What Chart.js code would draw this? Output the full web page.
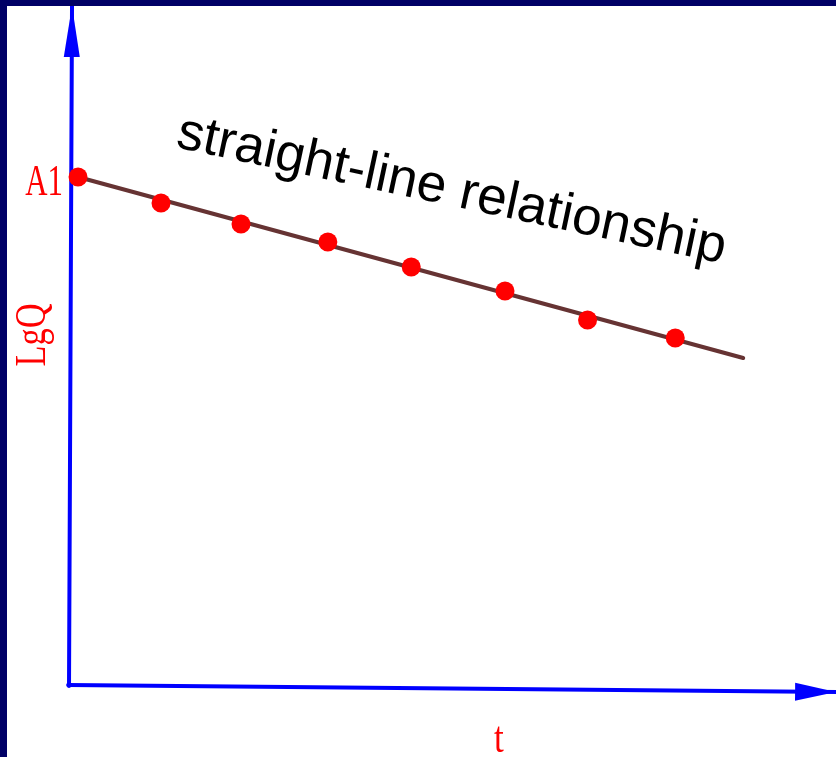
<!DOCTYPE html>
<html>
<head>
<meta charset="utf-8">
<script src="https://cdn.jsdelivr.net/npm/chart.js@4"></script>
<style>
  html, body { margin: 0; padding: 0; background: #000066; width: 836px; height: 757px; overflow: hidden; }
  #wrap { position: absolute; left: 7px; top: 6px; width: 829px; height: 751px; background: #ffffff; }
</style>
</head>
<body>
<div id="wrap"><canvas id="lgqChart" width="829" height="751"></canvas></div>
<script>
// measured points, t vs LgQ
const tValues = [0.105, 1.07, 2.0, 3.01, 3.98, 5.07, 6.03, 7.05];
const lgqValues = [5.09, 4.83, 4.62, 4.44, 4.19, 3.95, 3.66, 3.48];
// fitted straight line
const fitT = [0.105, 7.84];
const fitLgq = [5.09, 3.28];
// axes (slightly skewed in the original)
const yAxisT = [0, 0.035];
const yAxisLgq = [0, 6.8];
const xAxisT = [-0.01, 8.92];
const xAxisLgq = [0.01, -0.06];

const toPts = (xs, ys) => xs.map((x, i) => ({ x: x, y: ys[i] }));

const arrowAndLabels = {
    id: 'arrowAndLabels',
    afterDatasetsDraw(chart) {
        const ctx = chart.ctx;
        const xs = chart.scales.x, ys = chart.scales.y;
        const px = v => xs.getPixelForValue(v);
        const py = v => ys.getPixelForValue(v);

        function arrow(x0, y0, x1, y1, len, half) {
            const a = Math.atan2(y1 - y0, x1 - x0);
            ctx.save();
            ctx.translate(x1, y1);
            ctx.rotate(a);
            ctx.fillStyle = '#0000ff';
            ctx.beginPath();
            ctx.moveTo(0, 0);
            ctx.lineTo(-len, -half);
            ctx.lineTo(-len, half);
            ctx.closePath();
            ctx.fill();
            ctx.restore();
        }
        arrow(px(yAxisT[0]), py(yAxisLgq[0]), px(yAxisT[1]), py(yAxisLgq[1]), 51, 8);
        arrow(px(xAxisT[0]), py(xAxisLgq[0]), px(xAxisT[1]), py(xAxisLgq[1]), 41, 9);

        function label(text, x, y, rot, font, color, align, sx) {
            ctx.save();
            ctx.translate(x, y);
            ctx.rotate(rot);
            ctx.scale(sx, 1);
            ctx.font = font;
            ctx.fillStyle = color;
            ctx.textAlign = align;
            ctx.textBaseline = 'alphabetic';
            ctx.fillText(text, 0, 0);
            ctx.restore();
        }
        const serif = '44px "Liberation Serif"';
        label('A1', px(-0.07), py(4.91), 0, serif, '#ff0000', 'right', 0.7);
        label('LgQ', px(-0.28), py(3.51), -Math.PI / 2, serif, '#ff0000', 'center', 0.78);
        label('t', px(5.0), py(-0.66), 0, serif, '#ff0000', 'center', 0.8);
        label('straight-line relationship', px(1.23), py(5.39), 12 * Math.PI / 180,
              '53px "Liberation Sans"', '#000000', 'left', 1);
    }
};

const ctx = document.getElementById('lgqChart').getContext('2d');
new Chart(ctx, {
    type: 'scatter',
    data: {
        datasets: [
            {
                label: 'y axis',
                data: toPts(yAxisT, yAxisLgq),
                showLine: true,
                borderColor: '#0000ff',
                borderWidth: 4,
                borderCapStyle: 'round',
                pointRadius: 0,
                order: 3
            },
            {
                label: 'x axis',
                data: toPts(xAxisT, xAxisLgq),
                showLine: true,
                borderColor: '#0000ff',
                borderWidth: 4,
                borderCapStyle: 'round',
                pointRadius: 0,
                order: 3
            },
            {
                label: 'fit',
                data: toPts(fitT, fitLgq),
                showLine: true,
                borderColor: '#663333',
                borderWidth: 4,
                borderCapStyle: 'round',
                pointRadius: 0,
                order: 2
            },
            {
                label: 'LgQ',
                data: toPts(tValues, lgqValues),
                showLine: false,
                backgroundColor: '#ff0000',
                borderWidth: 0,
                pointRadius: 9.5,
                order: 1
            }
        ]
    },
    options: {
        responsive: false,
        animation: false,
        layout: { padding: 0, autoPadding: false },
        plugins: {
            legend: { display: false },
            tooltip: { enabled: false },
            title: { display: false }
        },
        scales: {
            x: { type: 'linear', display: false, min: -0.721, max: 8.919 },
            y: { type: 'linear', display: false, min: -0.71, max: 6.80 }
        }
    },
    plugins: [arrowAndLabels]
});
</script>
</body>
</html>
